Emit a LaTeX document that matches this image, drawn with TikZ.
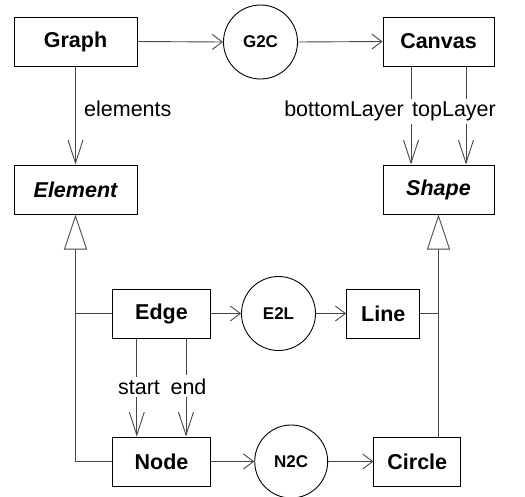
\documentclass[tikz,border=0pt]{standalone}
\usepackage{fontspec}
\setmainfont{Liberation Sans}
\usetikzlibrary{arrows.meta}
\definecolor{linegray}{RGB}{70,70,70}
\begin{document}
\begin{tikzpicture}[x=1pt,y=-1pt,
  box/.style={draw=black, line width=1pt, minimum height=49pt, inner sep=0pt, font=\fontsize{21.5}{24}\selectfont\bfseries},
  conv/.style={draw=black, circle, line width=0.9pt, minimum size=74pt, inner sep=0pt, font=\fontsize{17}{20}\selectfont\bfseries},
  conn/.style={draw=linegray, line width=0.9pt},
  harrow/.style={conn, -{Straight Barb[length=10pt,width=15pt]}},
  varrow/.style={conn, -{Straight Barb[length=23pt,width=15pt]}},
  inherit/.style={conn, -{Triangle[open,length=35pt,width=23pt]}},
  lbl/.style={fill=white, inner xsep=2pt, inner ysep=3pt, font=\fontsize{21.5}{24}\selectfont}
]
\useasboundingbox (0,0) rectangle (525,496);
% nodes
\node[box, minimum width=123pt] (graph) at (75.5,41.5) {Graph};
\node[conv] (g2c) at (260.5,42) {G2C};
\node[box, minimum width=111pt] (canvas) at (438.5,41.5) {Canvas};
\node[box, minimum width=123pt, font=\fontsize{21.5}{24}\selectfont\bfseries\itshape] (element) at (75.5,189.5) {Element};
\node[box, minimum width=111pt, font=\fontsize{21.5}{24}\selectfont\bfseries\itshape] (shape) at (438.5,189.5) {Shape};
\node[box, minimum width=98.5pt] (edge) at (161.5,313.5) {Edge};
\node[conv] (e2l) at (278.5,313.5) {E2L};
\node[box, minimum width=73.3pt] (line) at (383.3,313.5) {Line};
\node[box, minimum width=98.5pt] (node) at (161.5,461.5) {Node};
\node[conv, minimum size=73pt] (n2c) at (291.2,461.5) {N2C};
\node[box, minimum width=86.7pt] (circle) at (417.3,461.5) {Circle};
% associations
\draw[harrow] (graph.east) -- (g2c.west);
\draw[harrow] (g2c.east) -- (canvas.west);
\draw[varrow] (graph.south) -- (element.north);
\draw[varrow] ([xshift=-27.5pt]canvas.south) -- ([xshift=-27.5pt]shape.north);
\draw[varrow] ([xshift=27.5pt]canvas.south) -- ([xshift=27.5pt]shape.north);
\draw[harrow] (edge.east) -- (e2l.west);
\draw[harrow] (e2l.east) -- (line.west);
\draw[varrow] ([xshift=-24.7pt]edge.south) -- ([xshift=-24.7pt]node.north);
\draw[varrow] ([xshift=24.5pt]edge.south) -- ([xshift=24.5pt]node.north);
\draw[harrow] (node.east) -- (n2c.west);
\draw[harrow] (n2c.east) -- (circle.west);
% inheritance
\draw[conn] (edge.west) -- (edge.west -| element.south);
\draw[inherit] (node.west) -| (element.south);
\draw[conn] (line.east) -- (line.east -| shape.south);
\draw[inherit] (shape.south |- circle.north) -- (shape.south);
% labels
\node[lbl, anchor=base west] (lelements) at (82,116.5) {elements};
\node[lbl, anchor=base east] (lbottom) at (406,116.5) {bottomLayer};
\node[lbl, anchor=base west] (ltop) at (410,116.5) {topLayer};
\node[lbl, anchor=base] (lstart) at (139,394) {start};
\node[lbl, anchor=base] (lend) at (188.5,394) {end};
\end{tikzpicture}
\end{document}
